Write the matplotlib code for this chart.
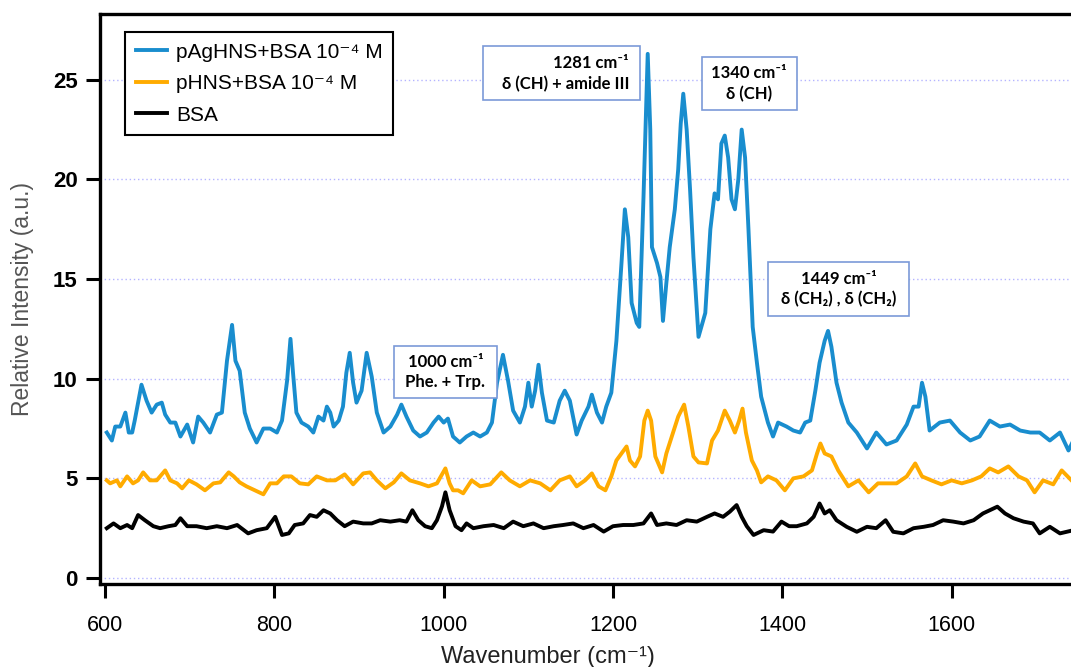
import matplotlib.pyplot as plt
from matplotlib.patches import Rectangle

plt.rcParams['font.family'] = ['Liberation Sans', 'DejaVu Sans']

# pAgHNS+BSA spectrum
blue_x = [602, 608, 612, 618, 624, 628, 632, 635, 643, 649, 655, 661, 667, 671, 677, 683, 689, 697,
          704, 710, 716, 724, 732, 738, 744, 750, 754, 759, 765, 771, 779, 787, 795, 803, 809, 815,
          819, 822, 826, 832, 840, 846, 852, 858, 862, 866, 870, 876, 881, 885, 889, 893, 897, 903,
          909, 915, 921, 929, 937, 945, 950, 956, 964, 972, 980, 988, 994, 1000, 1005, 1011, 1019,
          1027, 1035, 1043, 1051, 1057, 1063, 1070, 1076, 1082, 1090, 1096, 1100, 1104, 1108, 1112,
          1116, 1122, 1130, 1137, 1143, 1149, 1157, 1163, 1171, 1175, 1181, 1187, 1192, 1198, 1204,
          1210, 1214, 1218, 1222, 1228, 1231, 1236, 1241, 1244, 1246, 1252, 1256, 1259, 1263, 1267,
          1273, 1277, 1280, 1283, 1287, 1291, 1295, 1301, 1309, 1315, 1320, 1324, 1328, 1332, 1336,
          1340, 1344, 1348, 1352, 1356, 1360, 1365, 1370, 1375, 1383, 1389, 1395, 1405, 1413, 1421,
          1427, 1433, 1439, 1444, 1450, 1454, 1458, 1464, 1470, 1478, 1488, 1500, 1511, 1523, 1535,
          1547, 1555, 1561, 1565, 1569, 1574, 1586, 1598, 1610, 1622, 1633, 1645, 1657, 1669, 1681,
          1693, 1704, 1716, 1728, 1738, 1745]
blue_y = [7.3, 6.9, 7.6, 7.6, 8.3, 7.3, 7.3, 7.9, 9.7, 8.9, 8.3, 8.7, 8.8, 8.2, 7.8, 7.8, 7.1, 7.7,
          6.8, 8.1, 7.8, 7.3, 8.2, 8.3, 10.9, 12.7, 10.9, 10.4, 8.3, 7.5, 6.8, 7.5, 7.5, 7.3, 7.9, 9.9,
          12.0, 10.3, 8.3, 7.8, 7.6, 7.3, 8.1, 7.9, 8.6, 8.3, 7.6, 7.9, 8.6, 10.3, 11.3, 9.8, 8.8, 9.4,
          11.3, 10.1, 8.3, 7.3, 7.6, 8.2, 8.7, 8.1, 7.4, 7.1, 7.3, 7.8, 8.1, 7.8, 8.0, 7.1, 6.8,
          7.1, 7.3, 7.1, 7.3, 7.8, 9.8, 11.2, 9.9, 8.4, 7.8, 8.6, 9.8, 8.6, 9.4, 10.7,
          9.3, 7.9, 7.8, 8.9, 9.4, 8.9, 7.2, 7.9, 8.6, 9.2, 8.3, 7.8, 8.6, 9.3, 11.9,
          15.8, 18.5, 17.1, 13.8, 12.8, 12.6, 19.1, 26.3, 22.5, 16.6, 15.8, 15.1, 12.9, 14.8, 16.6,
          18.5, 20.5, 22.8, 24.3, 22.5, 19.5, 16.1, 12.1, 13.3, 17.5, 19.3, 19.0, 21.8, 22.2, 21.1,
          19.0, 18.5, 20.0, 22.5, 21.1, 17.5, 12.6, 10.8, 9.1, 7.8, 7.1, 7.8, 7.6, 7.4, 7.3,
          7.8, 7.9, 9.4, 10.8, 11.9, 12.4, 11.6, 9.8, 8.8, 7.8, 7.3, 6.5, 7.3, 6.7, 6.9,
          7.7, 8.6, 8.6, 9.8, 9.1, 7.4, 7.8, 7.9, 7.3, 6.9, 7.1, 7.9, 7.6, 7.7, 7.4,
          7.3, 7.3, 6.9, 7.3, 6.4, 7.0]

# pHNS+BSA spectrum
orange_x = [602, 606, 614, 618, 626, 633, 639, 645, 653, 661, 671, 677, 685, 691, 699, 708, 718, 728,
            736, 746, 752, 759, 767, 777, 787, 795, 803, 811, 820, 830, 840, 850, 862, 872, 883, 893,
            905, 913, 921, 931, 941, 950, 960, 972, 982, 992, 1002, 1007, 1011, 1017, 1023, 1033,
            1043, 1055, 1068, 1078, 1090, 1102, 1114, 1126, 1137, 1149, 1157, 1167, 1175, 1183, 1191,
            1198, 1204, 1210, 1216, 1220, 1226, 1232, 1237, 1241, 1245, 1250, 1258, 1263, 1271, 1277,
            1284, 1289, 1295, 1301, 1311, 1317, 1324, 1332, 1338, 1344, 1349, 1353, 1357, 1364, 1370,
            1375, 1383, 1393, 1403, 1413, 1425, 1435, 1441, 1445, 1450, 1458, 1466, 1478, 1490, 1502,
            1513, 1525, 1535, 1547, 1557, 1565, 1576, 1588, 1600, 1612, 1624, 1635, 1645, 1655, 1667,
            1679, 1689, 1698, 1708, 1720, 1730, 1745]
orange_y = [4.9, 4.75, 4.9, 4.6, 5.1, 4.75, 4.9, 5.3, 4.9, 4.9, 5.4, 4.9, 4.75, 4.5, 4.9, 4.7, 4.4, 4.75,
            4.8, 5.3, 5.1, 4.8, 4.6, 4.4, 4.2, 4.75, 4.75, 5.1, 5.1, 4.75, 4.7, 5.1, 4.9, 4.9, 5.2, 4.7,
            5.25, 5.3, 4.9, 4.5, 4.8, 5.25, 4.9, 4.75, 4.6, 4.75, 5.5, 4.75, 4.4, 4.4, 4.25, 4.9,
            4.6, 4.7, 5.3, 4.9, 4.6, 4.9, 4.75, 4.4, 4.9, 5.1, 4.6, 4.9, 5.25, 4.6, 4.4,
            5.1, 5.9, 6.25, 6.6, 5.9, 5.6, 6.1, 7.9, 8.4, 7.9, 6.1, 5.3, 6.25, 7.3, 8.1,
            8.7, 7.6, 6.1, 5.8, 5.75, 6.9, 7.4, 8.4, 7.9, 7.3, 7.9, 8.5, 7.3, 5.9, 5.4,
            4.8, 5.1, 4.9, 4.4, 5.0, 5.1, 5.4, 6.25, 6.75, 6.25, 6.1, 5.4, 4.6, 4.9, 4.3,
            4.75, 4.75, 4.75, 5.1, 5.75, 5.1, 4.9, 4.7, 4.9, 4.75, 4.9, 5.1, 5.5, 5.3, 5.6,
            5.1, 4.9, 4.3, 4.9, 4.7, 5.4, 4.75]

# BSA spectrum
black_x = [602, 610, 618, 626, 632, 639, 647, 657, 665, 675, 683, 689, 697, 708, 720, 732, 744, 756,
           769, 779, 791, 801, 809, 817, 824, 834, 842, 850, 858, 866, 874, 883, 893, 905, 915, 925,
           937, 948, 956, 963, 970, 978, 986, 992, 998, 1002, 1007, 1014, 1021, 1027, 1035, 1047,
           1059, 1071, 1082, 1094, 1106, 1118, 1130, 1141, 1153, 1165, 1177, 1189, 1200, 1212, 1224,
           1236, 1245, 1252, 1263, 1275, 1287, 1299, 1311, 1320, 1330, 1338, 1346, 1352, 1358, 1366,
           1378, 1389, 1399, 1408, 1417, 1429, 1437, 1444, 1450, 1456, 1464, 1476, 1488, 1500, 1511,
           1522, 1531, 1543, 1555, 1567, 1578, 1590, 1602, 1614, 1626, 1637, 1645, 1654, 1663, 1673,
           1685, 1696, 1704, 1716, 1728, 1745]
black_y = [2.5, 2.74, 2.5, 2.66, 2.5, 3.16, 2.9, 2.6, 2.5, 2.6, 2.66, 3.0, 2.6, 2.6, 2.5, 2.6, 2.5, 2.66,
           2.24, 2.4, 2.5, 3.07, 2.16, 2.24, 2.66, 2.74, 3.16, 3.07, 3.4, 3.24, 2.9, 2.6, 2.83, 2.74, 2.74, 2.9,
           2.83, 2.9, 2.83, 3.4, 2.9, 2.6, 2.5, 2.9, 3.6, 4.3, 3.4, 2.6, 2.4, 2.74, 2.5, 2.6,
           2.66, 2.5, 2.83, 2.6, 2.74, 2.5, 2.6, 2.66, 2.74, 2.5, 2.66, 2.33, 2.6, 2.66, 2.66,
           2.74, 3.24, 2.66, 2.74, 2.66, 2.9, 2.83, 3.07, 3.24, 3.07, 3.33, 3.66, 3.07, 2.6, 2.16,
           2.4, 2.33, 2.83, 2.6, 2.6, 2.74, 3.07, 3.74, 3.24, 3.4, 2.9, 2.57, 2.32, 2.57, 2.5,
           2.9, 2.32, 2.24, 2.5, 2.57, 2.66, 2.9, 2.83, 2.74, 2.9, 3.24, 3.4, 3.58, 3.24, 3.0,
           2.83, 2.74, 2.24, 2.57, 2.24, 2.41]

series_labels = ['pAgHNS+BSA 10⁻⁴ M', 'pHNS+BSA 10⁻⁴ M', 'BSA']
y_ticks = [0, 5, 10, 15, 20, 25]
x_ticks = [600, 800, 1000, 1200, 1400, 1600]

# peak annotations: text lines, box (x0, x1, y0, y1) in data units, alignment
notes = [
    (['1281 cm⁻¹', 'δ (CH) + amide III'], (1046, 1232, 23.97, 26.68), 'right'),
    (['1340 cm⁻¹', 'δ (CH)'], (1305, 1417, 23.47, 26.13), 'center'),
    (['1000 cm⁻¹', 'Phe. + Trp.'], (941, 1063, 9.03, 11.63), 'center'),
    (['1449 cm⁻¹', 'δ (CH₂) , δ (CH₂)'], (1383, 1550, 13.14, 15.85), 'center'),
]

fig = plt.figure(figsize=(10.71, 6.67), dpi=100)
ax = fig.add_axes([100 / 1071, 83 / 667, 971 / 1071, 570 / 667])

for yt in y_ticks:
    ax.axhline(yt, color='#b4b4ff', lw=1.0, ls=(0, (1, 2)), zorder=0)

ax.plot(black_x, black_y, color='black', lw=2.8, zorder=2, label=series_labels[2])
ax.plot(orange_x, orange_y, color='#ffab00', lw=2.8, zorder=3, label=series_labels[1])
ax.plot(blue_x, blue_y, color='#198dce', lw=2.8, zorder=4, label=series_labels[0])

ax.set_xlim(594, 1741)
ax.set_ylim(-0.3, 28.3)
ax.set_xticks(x_ticks)
ax.set_yticks(y_ticks)
ax.tick_params(direction='out', length=10, width=2.2)
ax.tick_params(axis='x', labelsize=15.5, pad=12)
ax.tick_params(axis='y', labelsize=16, pad=6)
for lab in ax.get_yticklabels():
    lab.set_fontweight('bold')
ax.spines['right'].set_visible(False)
for s in ['left', 'top', 'bottom']:
    ax.spines[s].set_linewidth(2.4)

ax.set_xlabel('Wavenumber (cm⁻¹)', fontsize=17, color='#222222')
ax.xaxis.set_label_coords(0.461, -0.108)
ax.set_ylabel('Relative Intensity (a.u.)', fontsize=16.5, color='#555555', labelpad=14)

handles, labels = ax.get_legend_handles_labels()
leg = ax.legend(handles[::-1], labels[::-1], loc='upper left', bbox_to_anchor=(0.026, 0.968),
                borderaxespad=0, fontsize=15, handlelength=1.5, handletextpad=0.45,
                labelspacing=0.6, fancybox=False, framealpha=1, edgecolor='black',
                borderpad=0.5)
leg.get_frame().set_linewidth(1.5)

for lines, (x0, x1, y0, y1), align in notes:
    ax.add_patch(Rectangle((x0, y0), x1 - x0, y1 - y0, facecolor='white',
                           edgecolor='#7b9ad8', lw=1.2, zorder=5))
    if align == 'right':
        tx = x1 - 0.07 * (x1 - x0)
    else:
        tx = (x0 + x1) / 2
    ax.text(tx, (y0 + y1) / 2, '\n'.join(lines), ha=align, va='center', multialignment=align,
            fontsize=12, fontweight='bold', family=['Lato', 'DejaVu Sans'],
            linespacing=1.35, zorder=6)

fig.savefig('out.png', dpi=100)
